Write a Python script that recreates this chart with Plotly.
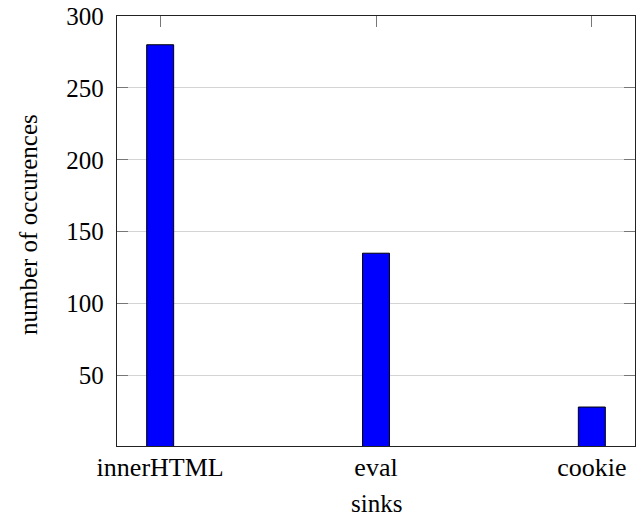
import plotly.graph_objects as go

categories = ["innerHTML", "eval", "cookie"]
occurrences = [280, 135, 28]
y_ticks = [50, 100, 150, 200, 250, 300]

serif = "Liberation Serif, 'Times New Roman', Times, serif"
font = dict(family=serif, size=25, color="black")
xfont = dict(family=serif, size=26, color="black")

fig = go.Figure()
fig.add_trace(go.Bar(
    x=list(range(len(categories))), y=occurrences, width=0.125,
    marker=dict(color="#0000ff", line=dict(color="black", width=1)),
))

fig.update_layout(
    width=641, height=519,
    margin=dict(l=117, r=6, t=16, b=73),
    paper_bgcolor="white", plot_bgcolor="white",
    showlegend=False, font=font,
    xaxis=dict(
        range=[-0.2, 2.2], tickvals=list(range(len(categories))), ticktext=categories,
        tickfont=xfont,
        ticks="inside", ticklen=11, tickcolor="#777", tickwidth=1,
        showline=True, linecolor="#222", linewidth=1.3, mirror="ticks",
        showgrid=False, zeroline=False, layer="below traces",
        automargin=False, ticklabelstandoff=-2, ticklabeloverflow="allow",
    ),
    yaxis=dict(
        range=[0.9, 300], tickvals=y_ticks,
        ticks="inside", ticklen=11, tickcolor="#777", tickwidth=1,
        showline=True, linecolor="#222", linewidth=1.3, mirror="ticks",
        showgrid=True, gridcolor="#d4d4d4", gridwidth=1, zeroline=False,
        layer="below traces", automargin=False, ticklabelstandoff=7,
        ticklabeloverflow="allow",
    ),
    annotations=[
        dict(text="sinks", xref="paper", yref="paper", x=0.5, y=-0.1695,
             xanchor="center", yanchor="bottom", showarrow=False, font=font),
        dict(text="number of occurences", xref="paper", yref="paper", x=-0.172, y=0.516,
             xanchor="center", yanchor="middle", textangle=-90, showarrow=False, font=font),
    ],
)

# remove the browser's default 8px body margin so the figure fills the window exactly
fig.write_html("out.html", config={"displayModeBar": False},
               post_script="document.body.style.margin='0px';")
